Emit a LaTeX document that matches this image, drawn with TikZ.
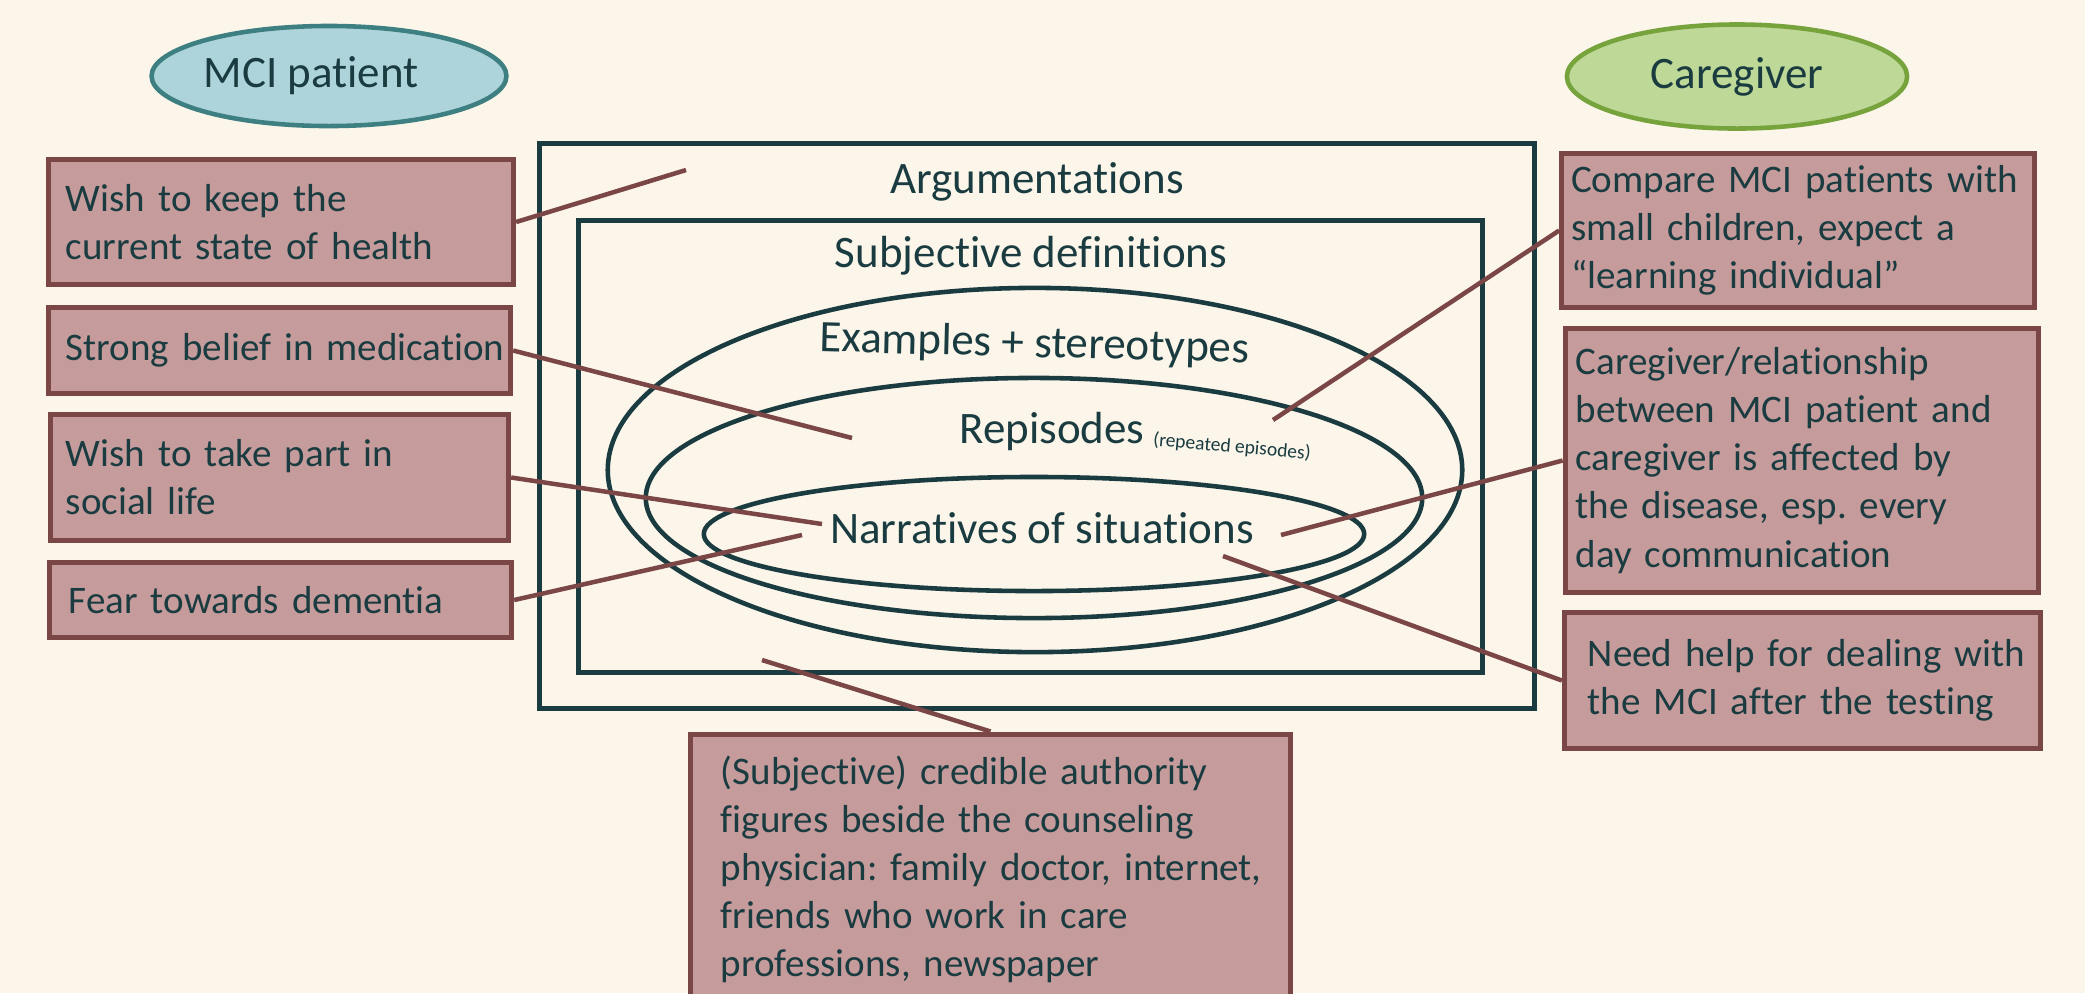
\documentclass[tikz,border=0pt]{standalone}
\usepackage{fontspec}
\setmainfont{Carlito}[Ligatures=NoCommon]
\usetikzlibrary{shapes.geometric}
\definecolor{bg}{HTML}{FBF5EA}
\definecolor{ink}{HTML}{1A3C40}
\definecolor{boxfill}{HTML}{C69B9B}
\definecolor{boxline}{HTML}{7B4646}
\definecolor{mcifill}{HTML}{ADD4DA}
\definecolor{mciline}{HTML}{3E7F82}
\definecolor{cgfill}{HTML}{BDD897}
\definecolor{cgline}{HTML}{77A33D}
\hyphenpenalty=10000
\exhyphenpenalty=10000
\frenchspacing
\begin{document}
\begin{tikzpicture}[x=0.01cm,y=-0.01cm,
  every node/.style={text=ink, inner sep=0pt},
  boxnode/.style={draw=boxline, fill=boxfill, line width=1.42pt, align=left,
    font=\fontsize{11.1}{13.66}\selectfont, inner ysep=0pt},
  ring/.style={draw=ink, line width=1.3pt},
  frame/.style={draw=ink, line width=1.42pt},
  lbl/.style={font=\fontsize{12.8}{15}\selectfont},
  link/.style={draw=boxline, line width=1.28pt},
  role/.style={ellipse, line width=1.3pt, font=\fontsize{12.8}{15}\selectfont}
]
\useasboundingbox (0,0) rectangle (2085,993);
\clip (0,0) rectangle (2085,993);
\fill[bg] (0,0) rectangle (2085,993);

% nested frames and ellipses
\draw[frame] (539.5,143.5) rectangle (1534.5,708.5);
\draw[frame] (578.5,220.5) rectangle (1482.5,672.5);
\draw[ring] (1035,470) ellipse [x radius=4.27cm, y radius=1.82cm];
\draw[ring] (1034,498) ellipse [x radius=3.88cm, y radius=1.20cm];
\draw[ring] (1034,534) ellipse [x radius=3.30cm, y radius=0.57cm];

% labels
\node[lbl, anchor=base] (arg) at (1037,193) {Argumentations};
\node[lbl, anchor=base] (subj) at (1031,267) {Subjective definitions};
\node[lbl, anchor=base, rotate=-1.5] (expl) at (1034,357) {Examples + stereotypes};
\node[lbl, anchor=base] (rep) at (1052,443) {Repisodes};
\node[font=\fontsize{5.55}{7}\selectfont, rotate=-5] (repx) at (1232,447) {(repeated episodes)};
\node[lbl, anchor=base] (narr) at (1042,543) {Narratives of situations};

% role ellipses
\node[role, draw=mciline, fill=mcifill, minimum width=3.40cm, minimum height=1.00cm] (mci) at (329,76) {MCI patient\kern0.36cm};
\node[role, draw=cgline, fill=cgfill, minimum width=3.40cm, minimum height=1.04cm] (cg) at (1737,76.5) {Caregiver};

% left boxes
\node[boxnode, text width=4.30cm, inner xsep=0.175cm, minimum height=1.25cm] (b1) at (281,222)
  {Wish to keep the\\current state of health};
\node[boxnode, text width=4.27cm, inner xsep=0.175cm, minimum height=0.86cm] (b2) at (279.5,350.5)
  {Strong~belief~in~medication};
\node[boxnode, text width=4.27cm, inner xsep=0.155cm, minimum height=1.26cm] (b3) at (279.5,477.5)
  {Wish to take part in\\social life};
\node[boxnode, text width=4.23cm, inner xsep=0.195cm, minimum height=0.75cm] (b4) at (280.5,600)
  {Fear towards dementia};

% right boxes
\node[boxnode, text width=4.535cm, inner xsep=0.095cm, minimum height=1.54cm] (c1) at (1798,230.5)
  {Compare~MCI~patients~with\\small children, expect a\\“learning individual”};
\node[boxnode, text width=4.525cm, inner xsep=0.105cm, minimum height=2.64cm] (c2) at (1802,460.5)
  {Caregiver/relationship\\between MCI patient and\\caregiver is affected by\\the disease, esp. every\\day communication};
\node[boxnode, text width=4.29cm, inner xsep=0.235cm, minimum height=1.36cm] (c3) at (1802.5,680.5)
  {Need~help~for~dealing~with\\the MCI after the testing};

% bottom box
\node[boxnode, anchor=north, text width=5.39cm, inner xsep=0.305cm, inner ysep=0.215cm] (bb) at (990.5,731.5)
  {(Subjective) credible authority\\figures beside the counseling\\physician:~family~doctor,~internet,\\friends who work in care\\professions, newspaper};

% connector ends
\coordinate (p1) at (686,170);
\coordinate (p2) at (852,438);
\coordinate (p3) at (822,524);
\coordinate (p4) at (802,535);
\coordinate (q1) at (1273,420);
\coordinate (q2) at (1281,535);
\coordinate (q3) at (1223,556);
\coordinate (r1) at (762,660);

\draw[link] (b1.east) -- (p1);
\draw[link] (b2.east) -- (p2);
\draw[link] (b3.east) -- (p3);
\draw[link] (b4.east) -- (p4);
\draw[link] (c1.west) -- (q1);
\draw[link] (c2.west) -- (q2);
\draw[link] (c3.west) -- (q3);
\draw[link] (r1) -- (bb.north);
\end{tikzpicture}
\end{document}
